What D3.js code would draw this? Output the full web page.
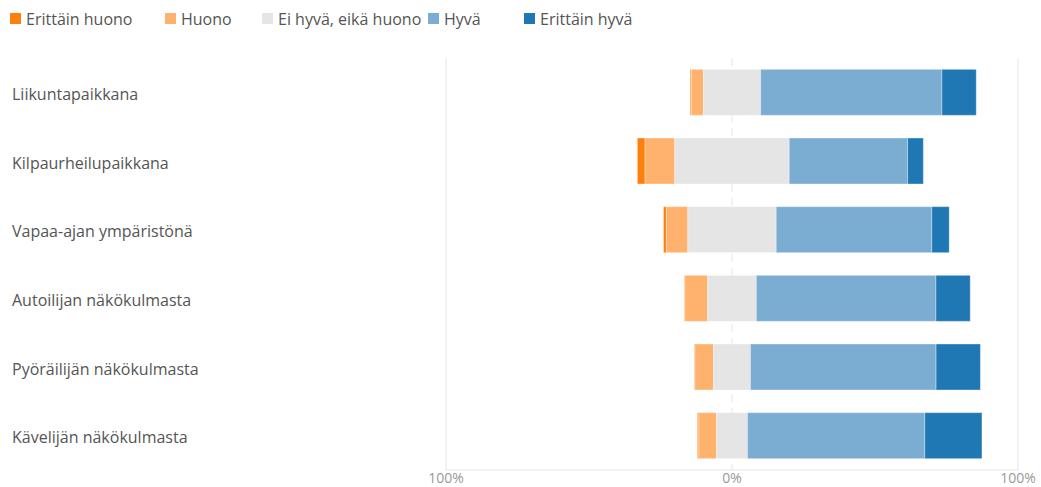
<!DOCTYPE html>
<html>
<head>
<meta charset="utf-8">
<script src="https://d3js.org/d3.v7.min.js"></script>
<style>
  body { margin: 0; background: #fff; }
  text { font-family: "Open Sans", "Noto Sans", sans-serif; }
</style>
</head>
<body>
<script>
  var categories = ['Liikuntapaikkana', 'Kilpaurheilupaikkana', 'Vapaa-ajan ympäristönä',
                    'Autoilijan näkökulmasta', 'Pyöräilijän näkökulmasta', 'Kävelijän näkökulmasta'];
  var series = ['Erittäin huono', 'Huono', 'Ei hyvä, eikä huono', 'Hyvä', 'Erittäin hyvä'];
  var colors = ['#ff7f0e', '#ffb26e', '#e5e5e5', '#7badd3', '#1f77b4'];

  // percentages per category, in series order
  var erittainHuono = [0.5, 2.7, 1.0, 0.2, 0.2, 0.5];
  var huono         = [4.1, 10.4, 7.5, 8.0, 6.5, 6.2];
  var neutral       = [20.0, 40.0, 30.9, 17.0, 12.9, 10.8];
  var hyva          = [63.4, 41.4, 54.4, 62.8, 64.9, 62.0];
  var erittainHyva  = [12.0, 5.5, 6.1, 12.0, 15.5, 20.0];
  var tickValues = [-100, 0, 100];

  var values = [erittainHuono, huono, neutral, hyva, erittainHyva];

  var width = 1041, height = 487;
  var svg = d3.select('body').append('svg')
    .attr('width', width)
    .attr('height', height);

  var x = d3.scaleLinear().domain([-100, 100]).range([446, 1018]);
  var y = d3.scaleBand().domain(categories).range([58, 470]).paddingInner(0.33).paddingOuter(0.165);

  // grid
  svg.selectAll('line.grid')
    .data(tickValues)
    .enter().append('line')
      .attr('class', 'grid')
      .attr('x1', function (d) { return x(d); })
      .attr('x2', function (d) { return x(d); })
      .attr('y1', 58)
      .attr('y2', 470)
      .style('stroke', '#e6e6e6')
      .style('stroke-width', 1)
      .style('stroke-dasharray', function (d) { return d === 0 ? '8,6' : null; });

  svg.append('line')
    .attr('x1', x(-100)).attr('x2', x(100))
    .attr('y1', 470).attr('y2', 470)
    .style('stroke', '#e6e6e6');

  // bars: neutral centered on 0
  var rows = categories.map(function (c, i) {
    var start = -(values[0][i] + values[1][i] + values[2][i] / 2);
    var segs = [];
    values.forEach(function (arr, k) {
      segs.push({ cat: c, k: k, x0: start, x1: start + arr[i] });
      start += arr[i];
    });
    return segs;
  });

  svg.selectAll('g.row')
    .data(rows)
    .enter().append('g')
      .attr('class', 'row')
    .selectAll('rect')
    .data(function (d) { return d; })
    .enter().append('rect')
      .attr('x', function (d) { return x(d.x0); })
      .attr('width', function (d) { return Math.max(0, x(d.x1) - x(d.x0)); })
      .attr('y', function (d) { return y(d.cat); })
      .attr('height', y.bandwidth())
      .style('fill', function (d) { return colors[d.k]; })
      .style('stroke', 'rgba(255,255,255,0.35)')
      .style('stroke-width', 1);

  // category labels
  svg.selectAll('text.cat')
    .data(categories)
    .enter().append('text')
      .attr('class', 'cat')
      .attr('x', 12)
      .attr('y', function (d) { return y(d) + y.bandwidth() / 2 + 2; })
      .attr('dy', '0.35em')
      .style('font-size', '16px')
      .style('fill', '#555')
      .text(function (d) { return d; });

  // tick labels
  svg.selectAll('text.tick')
    .data(tickValues)
    .enter().append('text')
      .attr('class', 'tick')
      .attr('x', function (d) { return x(d); })
      .attr('y', 483)
      .attr('text-anchor', 'middle')
      .style('font-size', '14px')
      .style('fill', '#999')
      .text(function (d) { return Math.abs(d) + '%'; });

  // legend
  var legendX = [10, 165, 262, 428, 524];
  var lg = svg.selectAll('g.legend')
    .data(series)
    .enter().append('g')
      .attr('class', 'legend')
      .attr('transform', function (d, i) { return 'translate(' + legendX[i] + ',0)'; });
  lg.append('rect')
    .attr('x', 0).attr('y', 13)
    .attr('width', 11).attr('height', 11)
    .style('fill', function (d, i) { return colors[i]; });
  lg.append('text')
    .attr('x', 16).attr('y', 19)
    .attr('dy', '0.35em')
    .style('font-size', '16px')
    .style('fill', '#555')
    .text(function (d) { return d; });
</script>
</body>
</html>
